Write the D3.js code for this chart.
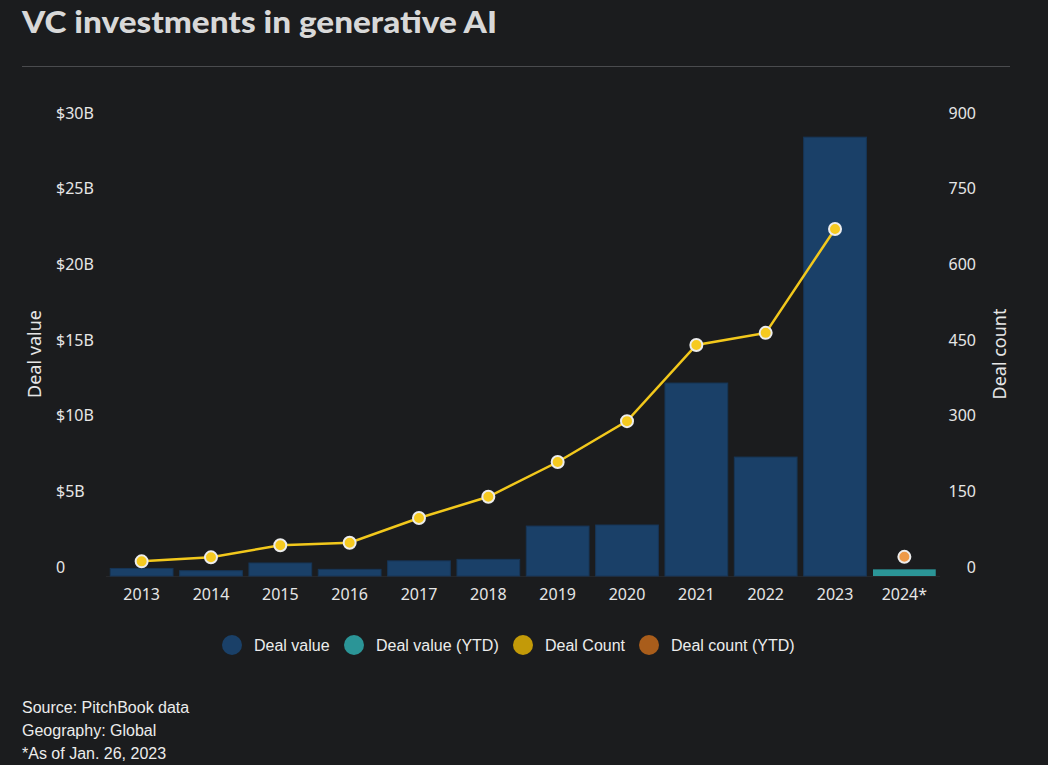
<!DOCTYPE html>
<html><head><meta charset="utf-8">
<script src="https://cdn.jsdelivr.net/npm/d3@7"></script>
<style>
html,body{margin:0;padding:0;background:#1b1c1e;}
svg{display:block;}
</style></head>
<body>
<svg id="chart" width="1048" height="765"></svg>
<script>
const years = ["2013","2014","2015","2016","2017","2018","2019","2020","2021","2022","2023","2024*"];
const dealValue = [0.5,0.35,0.86,0.44,1.0,1.1,3.3,3.37,12.75,7.86,29.0,null];
const dealValueYTD = [null,null,null,null,null,null,null,null,null,null,null,0.44];
const dealCount = [29,37,61,66,115,157,226,307,458,482,688,null];
const dealCountYTD = [null,null,null,null,null,null,null,null,null,null,null,38];
const leftTicks = [0,5,10,15,20,25,30];
const leftTickLabels = ["0","$5B","$10B","$15B","$20B","$25B","$30B"];
const rightTicks = [0,150,300,450,600,750,900];
const legendLabels = ["Deal value","Deal value (YTD)","Deal Count","Deal count (YTD)"];
const legendColors = ["#1a4068","#2b9597","#c39a08","#a95d1b"];
const footerLines = ["Source: PitchBook data","Geography: Global","*As of Jan. 26, 2023"];

const svg = d3.select("#chart");
const W = 1048, H = 765;
svg.append("rect").attr("width",W).attr("height",H).attr("fill","#1b1c1e");

// Title
svg.append("text").attr("x",22).attr("y",33)
  .attr("font-family","Lato, 'Open Sans', sans-serif").attr("font-weight","900")
  .attr("font-size",31).attr("fill","#d8d8d8")
  .attr("textLength",475).attr("lengthAdjust","spacingAndGlyphs")
  .text("VC investments in generative AI");
svg.append("line").attr("x1",22).attr("x2",1010).attr("y1",66.5).attr("y2",66.5)
  .attr("stroke","#4a4b4e").attr("stroke-width",1);

const baseY = 576, topY = 122;
const x = d3.scaleBand().domain(years).range([107,939]).paddingInner(0.095).paddingOuter(0.047);
const yL = d3.scaleLinear().domain([0,30]).range([baseY,topY]);
const yR = d3.scaleLinear().domain([0,900]).range([baseY,topY]);

// baseline
svg.append("line").attr("x1",106).attr("x2",940).attr("y1",baseY+0.5).attr("y2",baseY+0.5)
  .attr("stroke","#26272a");

// bars
const g = svg.append("g");
g.selectAll(".bar").data(years.map((y,i)=>({y,v:dealValue[i]})).filter(d=>d.v!=null))
  .enter().append("rect")
  .attr("x",d=>x(d.y)).attr("width",x.bandwidth())
  .attr("y",d=>yL(d.v)).attr("height",d=>baseY-yL(d.v))
  .attr("fill","#1a4068").attr("stroke","#173556").attr("stroke-width",1);
g.selectAll(".barytd").data(years.map((y,i)=>({y,v:dealValueYTD[i]})).filter(d=>d.v!=null))
  .enter().append("rect")
  .attr("x",d=>x(d.y)).attr("width",x.bandwidth())
  .attr("y",d=>yL(d.v)).attr("height",d=>baseY-yL(d.v))
  .attr("fill","#2b9597");

// line
const cx = d=>x(d.y)+x.bandwidth()/2;
const lineData = years.map((y,i)=>({y,v:dealCount[i]})).filter(d=>d.v!=null);
svg.append("path").datum(lineData)
  .attr("d",d3.line().x(cx).y(d=>yR(d.v)))
  .attr("fill","none").attr("stroke","#f2c81c").attr("stroke-width",2.5);
svg.selectAll(".pt").data(lineData).enter().append("circle")
  .attr("cx",cx).attr("cy",d=>yR(d.v)).attr("r",6)
  .attr("fill","#f6ca20").attr("stroke","#ececec").attr("stroke-width",2);
svg.selectAll(".pty").data(years.map((y,i)=>({y,v:dealCountYTD[i]})).filter(d=>d.v!=null))
  .enter().append("circle")
  .attr("cx",cx).attr("cy",d=>yR(d.v)).attr("r",6)
  .attr("fill","#ee9a48").attr("stroke","#ececec").attr("stroke-width",2);

// axes
const tickFont = "'Noto Sans', 'Open Sans', sans-serif";
const axL = svg.append("g").attr("transform","translate(56,0)")
  .call(d3.axisLeft(yL).tickValues(leftTicks).tickFormat((d,i)=>leftTickLabels[i]).tickSize(0));
axL.select(".domain").remove();
axL.selectAll("text").attr("text-anchor","start").attr("x",0).attr("dy","-0.25em")
  .attr("font-family",tickFont).attr("font-size",16).attr("fill","#e6e6e6");
const axR = svg.append("g").attr("transform","translate(976,0)")
  .call(d3.axisRight(yR).tickValues(rightTicks).tickSize(0));
axR.select(".domain").remove();
axR.selectAll("text").attr("text-anchor","end").attr("x",0).attr("dy","-0.25em")
  .attr("font-family",tickFont).attr("font-size",16).attr("fill","#e6e6e6");
const axB = svg.append("g").attr("transform",`translate(0,${baseY})`)
  .call(d3.axisBottom(x).tickSize(0));
axB.select(".domain").remove();
axB.selectAll("text").attr("y",13).attr("dy","0.71em")
  .attr("font-family",tickFont).attr("font-size",16).attr("fill","#e6e6e6");

svg.append("text").attr("transform","translate(41,354) rotate(-90)")
  .attr("text-anchor","middle").attr("font-family",tickFont).attr("font-size",18).attr("fill","#e6e6e6")
  .text("Deal value");
svg.append("text").attr("transform","translate(1006,354) rotate(-90)")
  .attr("text-anchor","middle").attr("font-family",tickFont).attr("font-size",18).attr("fill","#e6e6e6")
  .text("Deal count");

// legend
const legX = [232,354,523,649];
const leg = svg.append("g");
legendLabels.forEach((l,i)=>{
  leg.append("circle").attr("cx",legX[i]).attr("cy",645).attr("r",10).attr("fill",legendColors[i]);
  leg.append("text").attr("x",legX[i]+22).attr("y",651)
    .attr("font-family","'Liberation Sans', Arial, sans-serif").attr("font-size",16).attr("fill","#ececec")
    .text(l);
});

// footer
footerLines.forEach((t,i)=>{
  svg.append("text").attr("x",22).attr("y",713+i*23)
    .attr("font-family","'Liberation Sans', Arial, sans-serif").attr("font-size",16).attr("fill","#ececec")
    .text(t);
});
</script>
</body></html>
